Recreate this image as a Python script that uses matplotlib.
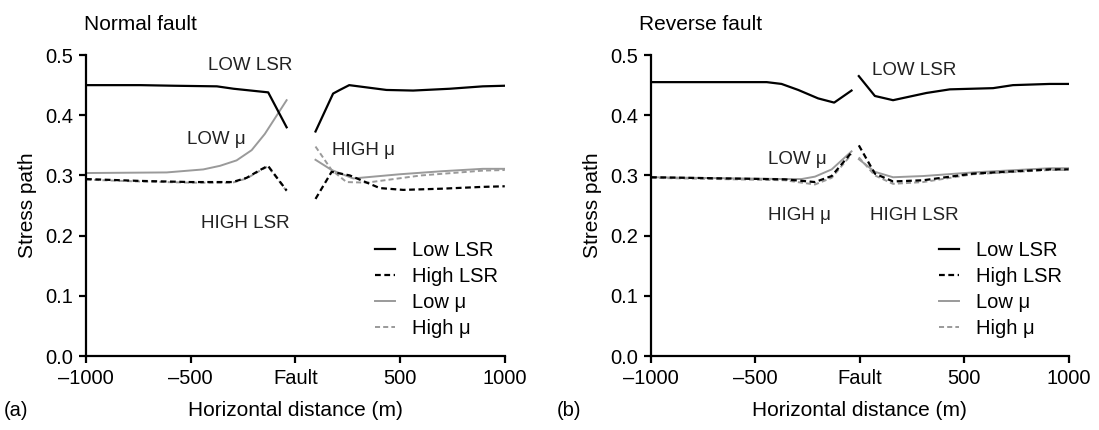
import numpy as np
import matplotlib
matplotlib.use("Agg")
import matplotlib.pyplot as plt
from matplotlib.lines import Line2D

plt.rcParams["font.family"] = ["Liberation Sans", "DejaVu Sans"]
plt.rcParams["font.size"] = 14

nan = np.nan

# Normal fault (distance in m, stress path)
nf_low_lsr_x = [-1000, -740, -580, -375, -295, -130, -42, nan, 96, 180, 212, 257, 435, 562, 737, 895, 1000]
nf_low_lsr_y = [0.450, 0.450, 0.449, 0.448, 0.444, 0.438, 0.380, nan, 0.373, 0.436, 0.442, 0.450, 0.442, 0.441, 0.444, 0.448, 0.449]

nf_high_lsr_x = [-1000, -750, -500, -300, -233, -169, -131, -42, nan, 96, 173, 260, 403, 515, 700, 895, 1000]
nf_high_lsr_y = [0.294, 0.291, 0.289, 0.289, 0.296, 0.309, 0.316, 0.275, nan, 0.261, 0.306, 0.300, 0.279, 0.276, 0.278, 0.281, 0.282]

nf_low_mu_x = [-1000, -615, -440, -360, -281, -209, -146, -42, nan, 96, 173, 276, 500, 700, 895, 1000]
nf_low_mu_y = [0.304, 0.305, 0.310, 0.316, 0.325, 0.342, 0.369, 0.425, nan, 0.326, 0.309, 0.295, 0.302, 0.307, 0.311, 0.311]

nf_high_mu_x = [-1000, -750, -500, -300, -233, -169, -131, -42, nan, 96, 173, 244, 340, 600, 895, 1000]
nf_high_mu_y = [0.293, 0.290, 0.288, 0.288, 0.295, 0.308, 0.315, 0.274, nan, 0.348, 0.309, 0.289, 0.288, 0.300, 0.308, 0.309]

# Reverse fault
rf_low_lsr_x = [-1000, -446, -375, -295, -200, -123, -40, nan, -5, 72, 159, 319, 431, 638, 733, 909, 1000]
rf_low_lsr_y = [0.455, 0.455, 0.452, 0.442, 0.428, 0.421, 0.441, nan, 0.465, 0.432, 0.425, 0.437, 0.443, 0.445, 0.450, 0.452, 0.452]

rf_x = [-1000, -359, -279, -215, -135, -40, nan, -5, 72, 159, 303, 542, 909, 1000]
rf_high_lsr_y = [0.297, 0.2935, 0.291, 0.289, 0.299, 0.338, nan, 0.350, 0.303, 0.290, 0.292, 0.303, 0.310, 0.310]
rf_low_mu_y = [0.297, 0.294, 0.294, 0.298, 0.310, 0.340, nan, 0.327, 0.306, 0.297, 0.299, 0.305, 0.312, 0.312]
rf_high_mu_y = [0.296, 0.292, 0.288, 0.285, 0.296, 0.335, nan, 0.330, 0.300, 0.286, 0.289, 0.302, 0.309, 0.309]

x_ticks = [-1000, -500, 0, 500, 1000]
x_tick_labels = ["\u20131000", "\u2013500", "Fault", "500", "1000"]
y_ticks = [0.0, 0.1, 0.2, 0.3, 0.4, 0.5]

nf_notes = [("LOW LSR", -217, 0.482), ("LOW \u03bc", -379, 0.36),
            ("HIGH \u03bc", 323, 0.342), ("HIGH LSR", -237, 0.22)]
rf_notes = [("LOW LSR", 258, 0.475), ("LOW \u03bc", -301, 0.326),
            ("HIGH \u03bc", -290, 0.233), ("HIGH LSR", 263, 0.233)]

BLACK = "#000000"
GREY = "#9a9a9a"
DASH = (0, (2.6, 1.6))

styles = {
    "low_lsr": dict(color=BLACK, lw=1.6, ls="-"),
    "high_lsr": dict(color=BLACK, lw=1.6, ls=DASH),
    "low_mu": dict(color=GREY, lw=1.4, ls="-"),
    "high_mu": dict(color=GREY, lw=1.4, ls=DASH),
}


def style_axes(ax):
    for s in ("top", "right"):
        ax.spines[s].set_visible(False)
    for s in ("left", "bottom"):
        ax.spines[s].set_linewidth(1.6)
    ax.set_xlim(-1000, 1000)
    ax.set_ylim(0, 0.5)
    ax.set_xticks(x_ticks)
    ax.set_xticklabels(x_tick_labels)
    ax.set_yticks(y_ticks)
    ax.set_yticklabels([f"{v:.1f}" for v in y_ticks])
    ax.tick_params(direction="out", length=5, width=1.6, labelsize=14.5, pad=4)
    for sp in ax.spines.values():
        sp.set_clip_on(False)


def add_legend(ax, anchor):
    handles = [Line2D([], [], **styles["low_lsr"]),
               Line2D([], [], **styles["high_lsr"]),
               Line2D([], [], **styles["low_mu"]),
               Line2D([], [], **styles["high_mu"])]
    labels = ["Low LSR", "High LSR", "Low \u03bc", "High \u03bc"]
    ax.legend(handles, labels, loc="lower left", bbox_to_anchor=anchor,
              frameon=False, handlelength=1.0, handletextpad=0.85,
              labelspacing=0.34, fontsize=14.5, borderaxespad=0, borderpad=0)


fig = plt.figure(figsize=(10.99, 4.30), dpi=100)
ax1 = fig.add_axes([0.0783, 0.172, 0.381, 0.700])
ax2 = fig.add_axes([0.5924, 0.172, 0.380, 0.700])

# Normal fault
ax1.plot(nf_low_mu_x, nf_low_mu_y, **styles["low_mu"])
ax1.plot(nf_high_mu_x, nf_high_mu_y, **styles["high_mu"])
ax1.plot(nf_low_lsr_x, nf_low_lsr_y, **styles["low_lsr"])
ax1.plot(nf_high_lsr_x, nf_high_lsr_y, **styles["high_lsr"])

# Reverse fault
ax2.plot(rf_x, rf_low_mu_y, **styles["low_mu"])
ax2.plot(rf_x, rf_high_mu_y, **styles["high_mu"])
ax2.plot(rf_low_lsr_x, rf_low_lsr_y, **styles["low_lsr"])
ax2.plot(rf_x, rf_high_lsr_y, **styles["high_lsr"])

for ax, notes, title, tx in ((ax1, nf_notes, "Normal fault", -0.005),
                             (ax2, rf_notes, "Reverse fault", -0.03)):
    style_axes(ax)
    for txt, x, y in notes:
        ax.text(x, y, txt, ha="center", va="center", fontsize=13.5, color="#222222")
    ax.set_ylabel("Stress path", fontsize=15, labelpad=6)
    ax.set_xlabel("Horizontal distance (m)", fontsize=15, labelpad=10)
    ax.text(tx, 1.10, title, transform=ax.transAxes, ha="left", va="center", fontsize=15)

fig.text(0.003, 0.045, "(a)", fontsize=14.5, ha="left", va="center")
fig.text(0.507, 0.045, "(b)", fontsize=14.5, ha="left", va="center")

add_legend(ax1, (0.69, 0.06))
add_legend(ax2, (0.69, 0.06))

fig.savefig("out.png", dpi=100)
